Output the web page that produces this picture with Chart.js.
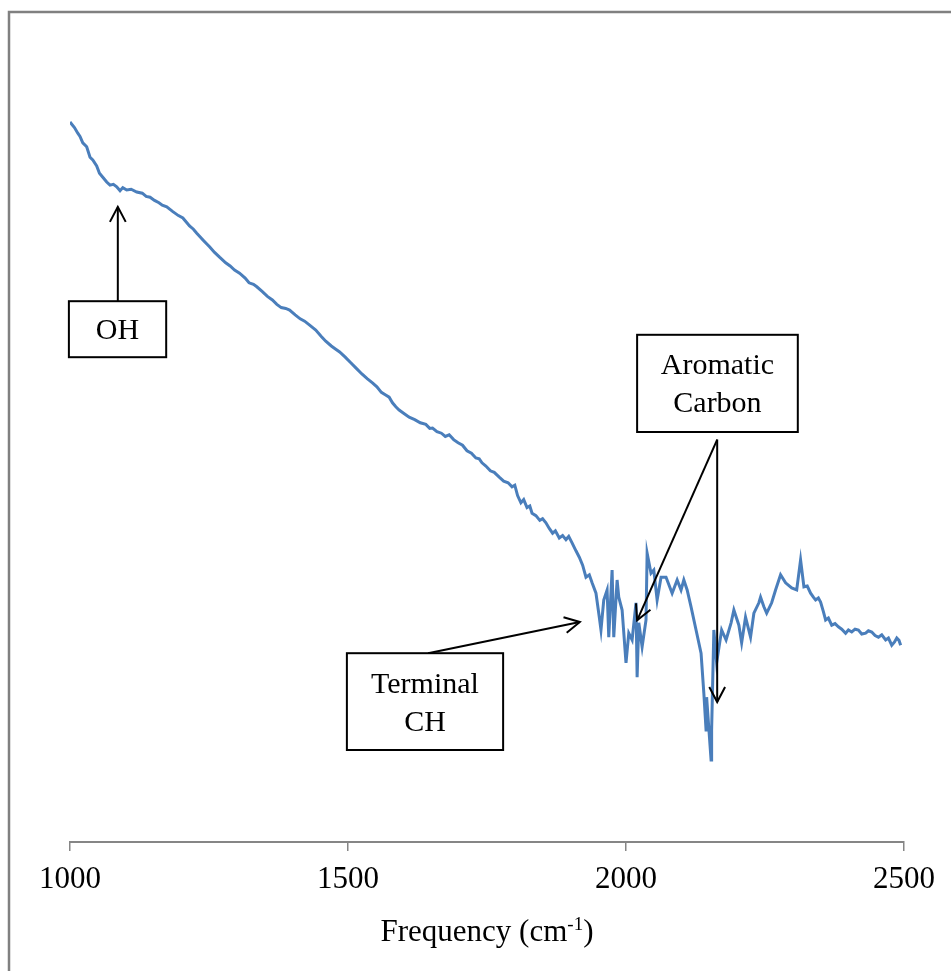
<!DOCTYPE html>
<html>
<head>
<meta charset="utf-8">
<script src="https://cdn.jsdelivr.net/npm/chart.js@4.4.1/dist/chart.umd.min.js"></script>
<style>
  html, body { margin: 0; padding: 0; background: #ffffff; }
  #wrap { width: 951px; height: 971px; position: relative; }
</style>
</head>
<body>
<div id="wrap"><canvas id="spectrum" width="951" height="971"></canvas></div>
<script>
// IR spectrum: wavenumber (cm-1) and detector signal (arbitrary units)
const frequency = [
  1000, 1008, 1014, 1018, 1023, 1030, 1036, 1041, 1048, 1053,
  1059, 1066, 1072, 1078, 1084, 1090, 1095, 1102, 1110, 1120,
  1130, 1137, 1144, 1152, 1160, 1166, 1174, 1185, 1195, 1203,
  1215, 1222, 1228, 1240, 1251, 1260, 1269, 1280, 1288, 1296,
  1305, 1315, 1322, 1330, 1336, 1346, 1355, 1364, 1372, 1380,
  1388, 1395, 1405, 1414, 1422, 1431, 1442, 1452, 1460, 1470,
  1478, 1485, 1495, 1505, 1515, 1525, 1535, 1544, 1552, 1560,
  1567, 1574, 1580, 1586, 1592, 1600, 1610, 1620, 1630, 1640,
  1647, 1652, 1660, 1668, 1675, 1682, 1690, 1698, 1706, 1714,
  1722, 1730, 1736, 1741, 1748, 1756, 1763, 1772, 1780, 1788,
  1795, 1800, 1805, 1811, 1816, 1822, 1827, 1831, 1838, 1845,
  1850, 1856, 1862, 1868, 1873, 1880, 1886, 1892, 1897, 1903,
  1910, 1916, 1922, 1928, 1934, 1939, 1946, 1952, 1955, 1960,
  1966, 1969, 1975, 1978, 1984, 1987, 1993, 2000, 2005, 2011,
  2018, 2020, 2023, 2029, 2036, 2038, 2045, 2050, 2056, 2063,
  2072, 2083, 2092, 2099, 2104, 2110, 2117, 2126, 2135, 2140,
  2144, 2145, 2153, 2154, 2158, 2163, 2172, 2180, 2189, 2194,
  2203, 2208, 2215, 2224, 2230, 2239, 2242, 2248, 2253, 2262,
  2269, 2278, 2287, 2298, 2307, 2314, 2320, 2326, 2332, 2337,
  2341, 2346, 2350, 2355, 2359, 2364, 2370, 2376, 2382, 2388,
  2395, 2400, 2406, 2412, 2418, 2424, 2431, 2436, 2442, 2448,
  2454, 2460, 2467, 2472, 2478, 2483, 2487, 2491, 2494
];
const signal = [
  90.0, 89.3, 88.6, 88.2, 87.4, 86.9, 85.6, 85.25, 84.5, 83.6,
  83.1, 82.5, 82.1, 82.2, 81.9, 81.4, 81.8, 81.5, 81.6, 81.25,
  81.1, 80.7, 80.6, 80.2, 79.9, 79.6, 79.4, 78.8, 78.3, 78.0,
  77.0, 76.6, 76.1, 75.2, 74.4, 73.7, 73.1, 72.4, 72.0, 71.5,
  71.1, 70.5, 69.9, 69.7, 69.4, 68.8, 68.2, 67.75, 67.2, 66.8,
  66.7, 66.5, 65.9, 65.4, 65.1, 64.6, 64.0, 63.2, 62.6, 62.0,
  61.6, 61.25, 60.6, 59.9, 59.2, 58.5, 57.9, 57.4, 56.9, 56.2,
  55.9, 55.6, 54.9, 54.4, 54.0, 53.6, 53.1, 52.8, 52.4, 52.2,
  51.7, 51.75, 51.3, 51.1, 50.7, 50.9, 50.3, 49.9, 49.6, 48.9,
  48.6, 48.0, 47.9, 47.4, 47.0, 46.4, 46.2, 45.6, 45.1, 44.9,
  44.4, 44.6, 43.3, 42.4, 42.8, 41.8, 42.0, 41.1, 40.8, 40.2,
  40.4, 39.9, 39.2, 38.6, 38.9, 38.0, 38.3, 37.8, 38.2, 37.4,
  36.4, 35.6, 34.6, 33.1, 33.4, 32.4, 31.1, 28.1, 26.5, 30.25,
  31.5, 25.6, 34.0, 25.6, 32.75, 30.6, 29.0, 22.4, 26.1, 25.25,
  29.9, 20.6, 27.4, 24.4, 27.75, 36.1, 33.6, 34.0, 30.25, 33.1,
  33.1, 31.1, 32.75, 31.5, 32.75, 31.5, 29.4, 26.5, 23.6, 18.6,
  14.0, 18.1, 10.25, 14.0, 26.5, 22.4, 26.5, 25.25, 27.4, 29.0,
  27.1, 24.9, 28.1, 25.6, 28.6, 29.9, 30.6, 29.4, 28.6, 29.9,
  31.5, 33.4, 32.4, 31.75, 31.5, 35.25, 31.9, 32.0, 31.1, 30.6,
  30.25, 30.5, 30.0, 28.8, 27.75, 28.0, 27.1, 27.3, 26.9, 26.6,
  26.1, 26.5, 26.25, 26.6, 26.5, 26.0, 26.1, 26.4, 26.25, 25.8,
  25.6, 25.9, 25.25, 25.5, 24.6, 25.0, 25.5, 25.2, 24.6
];
const tickValues = [1000, 1500, 2000, 2500];

// Labelled band assignments: box corners and arrow ends, in data units
const calloutLabels = [["OH"], ["Terminal", "CH"], ["Aromatic", "Carbon"]];
const calloutBoxes = [
  [998, 67.6, 1173, 60.6],
  [1498, 23.6, 1779, 11.5],
  [2020, 63.4, 2309, 51.25]
];
const calloutArrows = [
  [[1086, 67.6, 1086, 79.4]],
  [[1644, 23.6, 1917, 27.5]],
  [[2164, 50.3, 2020, 27.7], [2164, 50.3, 2164, 17.5]]
];

const SERIF = "'Liberation Serif', 'Times New Roman', serif";

const points = frequency.map((f, i) => ({ x: f, y: signal[i] }));

const framePlugin = {
  id: 'frame',
  beforeDraw(chart) {
    const ctx = chart.ctx;
    ctx.save();
    ctx.fillStyle = '#ffffff';
    ctx.fillRect(0, 0, chart.width, chart.height);
    ctx.strokeStyle = '#808080';
    ctx.lineWidth = 2.5;
    ctx.strokeRect(9, 12, chart.width + 20, chart.height + 20);
    ctx.restore();
  }
};

function arrowHead(ctx, x0, y0, x1, y1) {
  const ang = Math.atan2(y1 - y0, x1 - x0);
  const len = 17, spread = Math.PI / 6.5;
  ctx.beginPath();
  ctx.moveTo(x1 - len * Math.cos(ang - spread), y1 - len * Math.sin(ang - spread));
  ctx.lineTo(x1, y1);
  ctx.lineTo(x1 - len * Math.cos(ang + spread), y1 - len * Math.sin(ang + spread));
  ctx.stroke();
}

const calloutPlugin = {
  id: 'callouts',
  afterDatasetsDraw(chart) {
    const ctx = chart.ctx;
    const xs = chart.scales.x, ys = chart.scales.y;
    ctx.save();
    ctx.strokeStyle = '#000000';
    ctx.fillStyle = '#000000';
    ctx.lineWidth = 2;
    calloutArrows.forEach(list => list.forEach(a => {
      const x0 = xs.getPixelForValue(a[0]), y0 = ys.getPixelForValue(a[1]);
      const x1 = xs.getPixelForValue(a[2]), y1 = ys.getPixelForValue(a[3]);
      ctx.beginPath();
      ctx.moveTo(x0, y0);
      ctx.lineTo(x1, y1);
      ctx.stroke();
      arrowHead(ctx, x0, y0, x1, y1);
    }));
    calloutBoxes.forEach((b, i) => {
      const l = xs.getPixelForValue(b[0]), t = ys.getPixelForValue(b[1]);
      const r = xs.getPixelForValue(b[2]), btm = ys.getPixelForValue(b[3]);
      ctx.fillStyle = '#ffffff';
      ctx.fillRect(l, t, r - l, btm - t);
      ctx.strokeStyle = '#000000';
      ctx.lineWidth = 2;
      ctx.strokeRect(l, t, r - l, btm - t);
      ctx.fillStyle = '#000000';
      ctx.font = '30px ' + SERIF;
      ctx.textAlign = 'center';
      ctx.textBaseline = 'alphabetic';
      const lines = calloutLabels[i];
      const lh = 38;
      const cx = (l + r) / 2, cy = (t + btm) / 2;
      const firstBase = cy + 10 - (lines.length - 1) * lh / 2;
      lines.forEach((txt, k) => ctx.fillText(txt, cx, firstBase + k * lh));
    });
    ctx.restore();
  }
};

const axisTitlePlugin = {
  id: 'axisTitle',
  afterDraw(chart) {
    const ctx = chart.ctx;
    const area = chart.chartArea;
    const main = 'Frequency (cm', sup = '-1', tail = ')';
    ctx.save();
    ctx.fillStyle = '#000000';
    ctx.textBaseline = 'alphabetic';
    ctx.textAlign = 'left';
    const big = '31px ' + SERIF, small = '19px ' + SERIF;
    ctx.font = big;
    const w1 = ctx.measureText(main).width, w3 = ctx.measureText(tail).width;
    ctx.font = small;
    const w2 = ctx.measureText(sup).width;
    const total = w1 + w2 + w3;
    let x = (area.left + area.right) / 2 - total / 2;
    const base = 941;
    ctx.font = big;
    ctx.fillText(main, x, base);
    x += w1;
    ctx.font = small;
    ctx.fillText(sup, x, base - 11);
    x += w2;
    ctx.font = big;
    ctx.fillText(tail, x, base);
    ctx.restore();
  }
};

new Chart(document.getElementById('spectrum'), {
  type: 'line',
  data: {
    datasets: [{
      data: points,
      borderColor: '#4a7ebb',
      borderWidth: 3,
      pointRadius: 0,
      tension: 0,
      fill: false
    }]
  },
  options: {
    responsive: false,
    animation: false,
    layout: { padding: { left: 70, right: 47, top: 42, bottom: 0 } },
    plugins: { legend: { display: false }, tooltip: { enabled: false }, title: { display: false } },
    scales: {
      x: {
        type: 'linear',
        min: 1000,
        max: 2500,
        afterBuildTicks(scale) { scale.ticks = tickValues.map(v => ({ value: v })); },
        afterFit(scale) { scale.height = 129; },
        ticks: {
          color: '#000000',
          font: { family: SERIF, size: 31 },
          padding: 10,
          maxRotation: 0,
          autoSkip: false,
          callback: (v) => String(v)
        },
        grid: { drawOnChartArea: false, drawTicks: true, tickLength: 9, color: '#868686', lineWidth: 1.5 },
        border: { display: true, color: '#868686', width: 2 }
      },
      y: {
        display: false,
        min: 0,
        max: 100
      }
    }
  },
  plugins: [framePlugin, calloutPlugin, axisTitlePlugin]
});
</script>
</body>
</html>
